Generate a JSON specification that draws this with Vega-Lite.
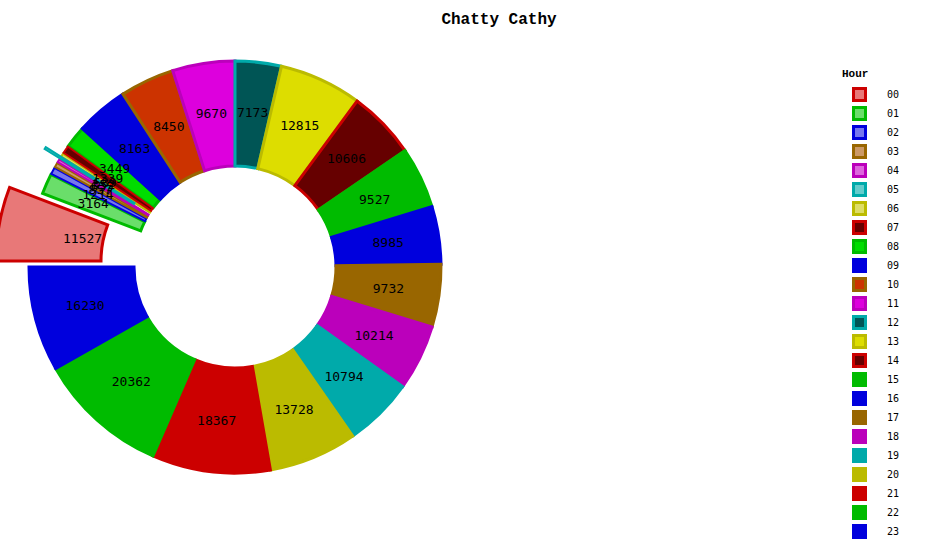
{
  "$schema": "https://vega.github.io/schema/vega-lite/v6.json",
  "width": 470,
  "height": 534,
  "autosize": {"type": "none"},
  "padding": {"left": 0, "top": 0, "right": 470, "bottom": 23},
  "title": {"text": "Chatty Cathy", "font": "Liberation Mono", "fontSize": 16, "fontWeight": "bold", "color": "#000", "anchor": "middle", "frame": "group", "dx": 264, "offset": 0, "dy": 40, "baseline": "alphabetic"},
  "data": {"values": [
    {"Hour": "00", "Messages": 11527},
    {"Hour": "01", "Messages": 3164},
    {"Hour": "02", "Messages": 1214},
    {"Hour": "03", "Messages": 857},
    {"Hour": "04", "Messages": 635},
    {"Hour": "05", "Messages": 352},
    {"Hour": "06", "Messages": 689},
    {"Hour": "07", "Messages": 1339},
    {"Hour": "08", "Messages": 3449},
    {"Hour": "09", "Messages": 8163},
    {"Hour": "10", "Messages": 8450},
    {"Hour": "11", "Messages": 9670},
    {"Hour": "12", "Messages": 7173},
    {"Hour": "13", "Messages": 12815},
    {"Hour": "14", "Messages": 10606},
    {"Hour": "15", "Messages": 9527},
    {"Hour": "16", "Messages": 8985},
    {"Hour": "17", "Messages": 9732},
    {"Hour": "18", "Messages": 10214},
    {"Hour": "19", "Messages": 10794},
    {"Hour": "20", "Messages": 13728},
    {"Hour": "21", "Messages": 18367},
    {"Hour": "22", "Messages": 20362},
    {"Hour": "23", "Messages": 16230}
  ]},
  "encoding": {
    "theta": {"field": "Messages", "type": "quantitative", "stack": "normalize", "scale": {"domain": [0, 1], "range": [-1.5708, 4.7124]}},
    "order": {"field": "Hour", "type": "ordinal", "sort": "ascending"}
  },
  "layer": [
    {
      "mark": {"type": "arc", "radius": 206, "radius2": 101, "strokeWidth": 3},
      "encoding": {
        "fill": {"field": "Hour", "type": "nominal", "title": "Hour",
          "scale": {"domain": ["00","01","02","03","04","05","06","07","08","09","10","11","12","13","14","15","16","17","18","19","20","21","22","23"],
                    "range": ["#e87878","#6ade6a","#7777ee","#cc9966","#dd66dd","#66cccc","#dddd66","#660000","#00dd00","#0000dd","#cc3300","#dd00dd","#005555","#dddd00","#660000","#00bb00","#0000dd","#996600","#bb00bb","#00aaaa","#bbbb00","#cc0000","#00bb00","#0000dd"]},
          "legend": {"orient": "none", "legendX": 842, "legendY": 68}},
        "stroke": {"field": "Hour", "type": "nominal", "title": "Hour",
          "scale": {"domain": ["00","01","02","03","04","05","06","07","08","09","10","11","12","13","14","15","16","17","18","19","20","21","22","23"],
                    "range": ["#cc0000","#00bb00","#0000dd","#996600","#bb00bb","#00aaaa","#bbbb00","#cc0000","#00bb00","#0000dd","#996600","#bb00bb","#00aaaa","#bbbb00","#cc0000","#00bb00","#0000dd","#996600","#bb00bb","#00aaaa","#bbbb00","#cc0000","#00bb00","#0000dd"]},
          "legend": {"orient": "none", "legendX": 842, "legendY": 68}},
        "opacity": {"condition": {"test": "indexof(['00','02','03','04','05','06','07'], datum.Hour) >= 0", "value": 0}, "value": 1}
      }
    },
    {
      "mark": {"type": "arc", "radius": 206, "radius2": 101, "strokeWidth": 2, "padAngle": 0.005},
      "encoding": {
        "fill": {"field": "Hour", "type": "nominal"},
        "stroke": {"field": "Hour", "type": "nominal"},
        "opacity": {"condition": {"test": "indexof(['02','03','04','06','07'], datum.Hour) >= 0", "value": 1}, "value": 0}
      }
    },
    {
      "mark": {"type": "arc", "radius": 206, "radius2": 101, "strokeWidth": 2, "xOffset": -15, "yOffset": -10},
      "encoding": {
        "fill": {"field": "Hour", "type": "nominal"},
        "stroke": {"field": "Hour", "type": "nominal"},
        "opacity": {"condition": {"test": "datum.Hour == '05'", "value": 1}, "value": 0}
      }
    },
    {
      "mark": {"type": "arc", "radius": 206, "radius2": 101, "strokeWidth": 3, "xOffset": -33, "yOffset": -6},
      "encoding": {
        "fill": {"field": "Hour", "type": "nominal"},
        "stroke": {"field": "Hour", "type": "nominal"},
        "opacity": {"condition": {"test": "datum.Hour == '00'", "value": 1}, "value": 0}
      }
    },
    {
      "mark": {"type": "text", "radius": 155, "font": "DejaVu Sans Mono", "fontSize": 13, "color": "#000", "align": "center", "baseline": "middle"},
      "encoding": {
        "text": {"field": "Messages", "type": "quantitative"}
      }
    }
  ],
  "config": {
    "view": {"stroke": null},
    "legend": {
      "titleFont": "Liberation Mono", "titleFontSize": 11, "titleFontWeight": "bold", "titleColor": "#000", "titlePadding": 6,
      "labelFont": "DejaVu Sans Mono", "labelFontSize": 10, "labelColor": "#000",
      "symbolType": "square", "symbolSize": 144, "symbolStrokeWidth": 3, "symbolOffset": 10, "labelOffset": 20, "rowPadding": 0, "clipHeight": 19
    }
  }
}
